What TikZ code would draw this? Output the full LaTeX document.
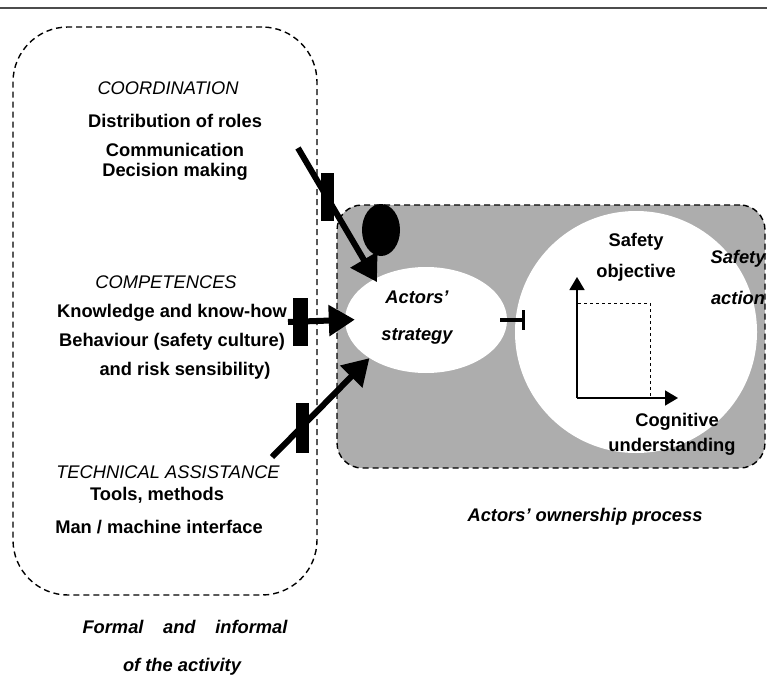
\documentclass[tikz,border=0pt]{standalone}
\usepackage{fontspec}
\setmainfont{Liberation Sans}
\usetikzlibrary{shapes.geometric,arrows.meta}

\tikzstyle{label}=[inner sep=0pt,font=\fontsize{18.3}{22}\selectfont\bfseries]
\tikzstyle{title}=[inner sep=0pt,font=\fontsize{18.3}{22}\selectfont\itshape]
\tikzstyle{emph}=[inner sep=0pt,font=\fontsize{18.3}{22}\selectfont\bfseries\itshape]
\tikzstyle{frame}=[draw,dashed,dash pattern=on 6pt off 4pt,line width=1.4pt]
\tikzstyle{blocker}=[rectangle,fill=black,inner sep=0pt,minimum width=13pt,minimum height=48pt]
\tikzstyle{push edge}=[draw,line width=6pt,-{Triangle[length=26pt,width=30pt]}]
\tikzstyle{axis edge}=[draw,line width=1.6pt,-{Triangle[length=13pt,width=15pt]}]

\begin{document}
\begin{tikzpicture}[x=1pt,y=-1pt]
			\useasboundingbox (0,0) rectangle (767,679);
			\draw[line width=1.5pt,black!70] (0,8) -- (767,8);
			% the two frames
			\node[frame,rectangle,rounded corners=55pt,minimum width=304pt,minimum height=568pt] (activity) at (165,311) {};
			\node[frame,rectangle,rounded corners=25pt,fill=black!32,minimum width=428pt,minimum height=263pt] (ownership) at (551,336.5) {};
			\node[circle,fill=white,minimum size=242pt] (safety) at (636,332) {};
			\node[ellipse,fill=white,minimum width=162pt,minimum height=106pt] (strategy) at (426,320) {};
			\node[emph,align=center] (strategytext) at (417,318) {Actors'\\[15pt]strategy};
			\node[ellipse,fill=black,minimum width=38pt,minimum height=52pt] (dot) at (381,230) {};
			% left column texts
			\node[title] (coord) at (168,88) {COORDINATION};
			\node[label] (roles) at (175,121) {Distribution of roles};
			\node[label] (comm) at (175,150) {Communication};
			\node[label] (decision) at (175,172) {Decision making};
			\node[title] (comp) at (166,282) {COMPETENCES};
			\node[label] (know) at (172,313) {Knowledge and know-how};
			\node[label] (behav) at (172,342) {Behaviour (safety culture)};
			\node[label] (risk) at (185,371) {and risk sensibility)};
			\node[title] (tech) at (168,472) {TECHNICAL ASSISTANCE};
			\node[label] (tools) at (157,495) {Tools, methods};
			\node[label] (mmi) at (159,527) {Man / machine interface};
			\node[emph] (formal) at (185,627) {\makebox[205pt]{Formal\hfill and\hfill informal}};
			\node[emph] (of) at (182,667) {of the activity};
			\node[emph] (process) at (585,517) {Actors' ownership process};
			% texts of the right frame
			\node[label,align=center] (objective) at (636,257) {Safety\\[9pt]objective};
			\node[emph,align=center] (action) at (738,277) {Safety\\[19pt]action};
			\node[label] (cog) at (677,422) {Cognitive};
			\node[label] (under) at (672,447) {understanding};
			% inputs towards the strategy
			\coordinate (c1) at (298,148);
			\coordinate (c2) at (288,322);
			\coordinate (c3) at (272,457);
			\path[push edge,shorten >=-4pt] (c1) to (strategy.141);
			\path[push edge,shorten >=-10pt] (c2) to (strategy.west);
			\path[push edge] (c3) to (strategy.214);
			\node[blocker] (bar1) at (327,197) {};
			\node[blocker,minimum width=15pt] (bar2) at (300,322) {};
			\node[blocker,minimum height=50pt] (bar3) at (302,428) {};
			\path[draw,line width=4pt,-{Bar[width=20pt,line width=3pt]},shorten <=-7pt,shorten >=-10pt] (strategy.east) to (strategy.east -| safety.west);
			% axes of the safety objective
			\coordinate (origin) at (577,398);
			\path[axis edge] (origin) to ++(0,-121);
			\path[axis edge] (origin) to ++(101,0);
			\draw[dashed,line width=1pt] (origin) rectangle ++(73,-95);
\end{tikzpicture}
\end{document}
